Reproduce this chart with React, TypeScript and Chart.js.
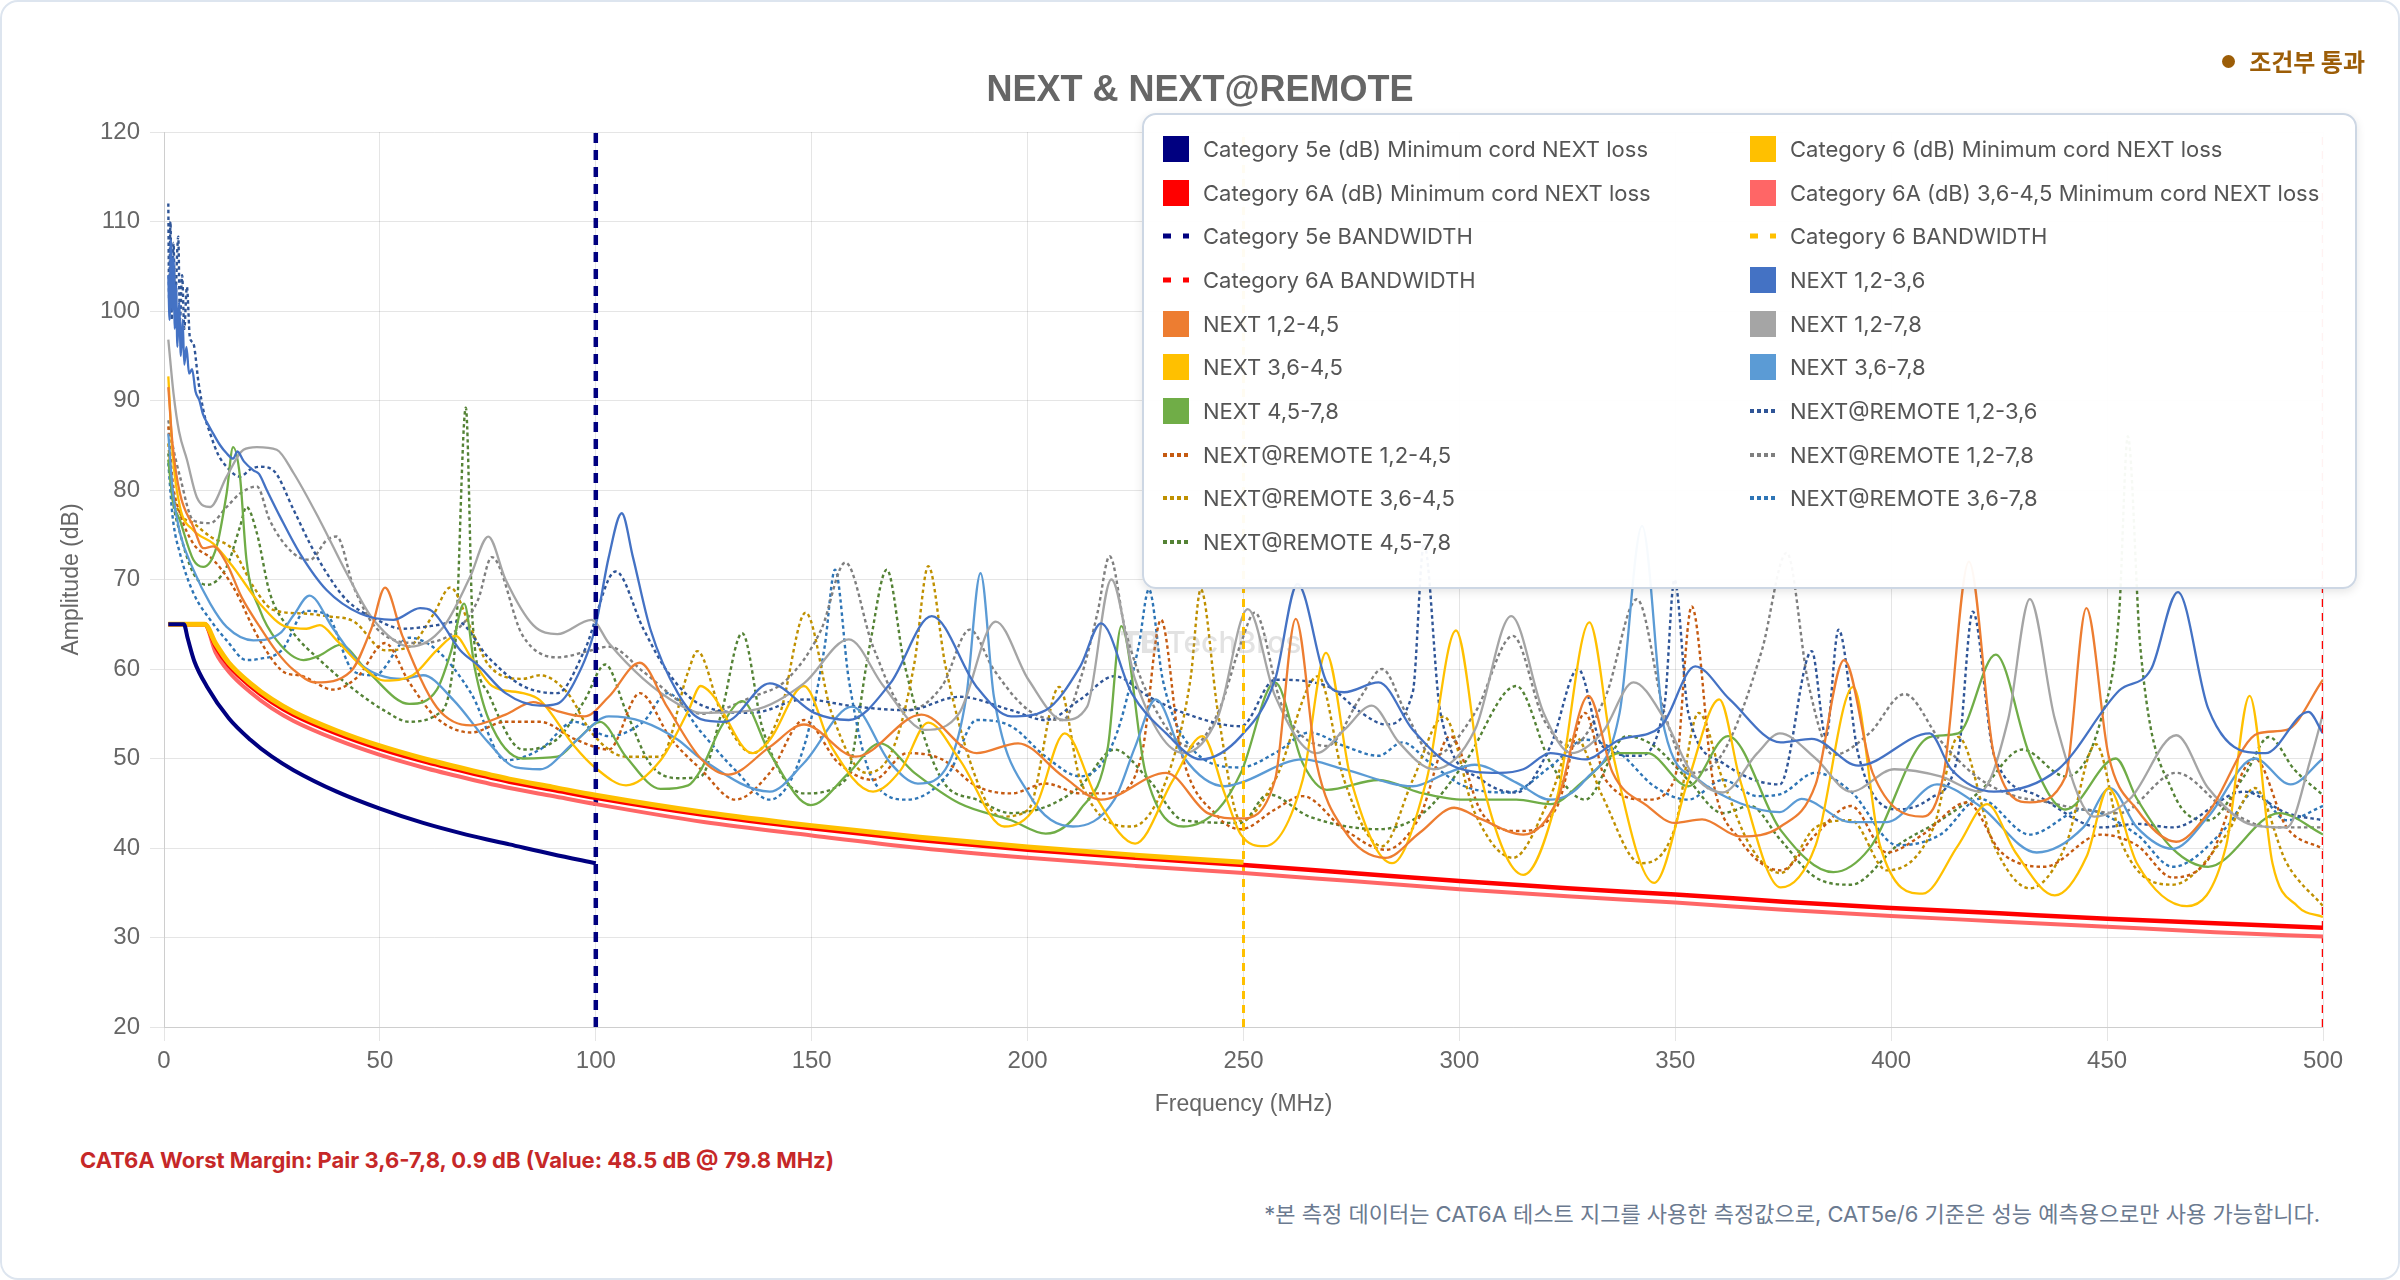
import React, { useEffect, useRef } from "react";
import { Chart, registerables } from "chart.js";

Chart.register(...registerables);

// ---------- limit lines ----------
const CAT5E_FREQ = [1, 4.6, 5.5, 7, 10, 15, 20, 25, 30, 40, 50, 60, 70, 80, 90, 100];
const CAT5E_MIN = [65, 65, 63.4, 60.9, 58.0, 54.5, 52.1, 50.2, 48.7, 46.3, 44.4, 42.8, 41.5, 40.4, 39.3, 38.3];

const LIMIT_FREQ = [1, 9.4, 12, 15, 20, 25, 30, 40, 50, 60, 70, 80, 90, 100, 125, 150, 175, 200, 225, 250, 275, 300, 325, 350, 375, 400, 425, 450, 475, 500];
const CAT6_MIN = [65, 65, 62.8, 60.7, 58.4, 56.6, 55.2, 53.1, 51.4, 50.0, 48.8, 47.7, 46.8, 45.9, 44.0, 42.5, 41.2, 40.1, 39.2, 38.4];
const CAT6A_MIN = [65, 65, 62.5, 60.4, 58.1, 56.3, 54.9, 52.8, 51.1, 49.7, 48.5, 47.4, 46.5, 45.6, 43.7, 42.2, 40.9, 39.8, 38.9, 38.1, 37.2, 36.3, 35.5, 34.8, 34.0, 33.3, 32.7, 32.1, 31.6, 31.1];
const CAT6A_3645_MIN = [65, 65, 61.8, 59.7, 57.4, 55.6, 54.2, 52.1, 50.4, 49.0, 47.8, 46.7, 45.8, 44.9, 42.9, 41.4, 40.0, 38.9, 38.0, 37.2, 36.3, 35.4, 34.6, 33.9, 33.1, 32.4, 31.8, 31.2, 30.6, 30.1];

const CAT5E_BW = 100;
const CAT6_BW = 250;
const CAT6A_BW = 500;
const BW_SPAN = [20, 120];

// ---------- measured NEXT [MHz, dB] ----------
const NEXT_12_36: [number, number][] = [[1,104],[1.3,99],[1.6,108],[1.9,100],[2.2,106],[2.5,98],[2.8,103],[3.1,96],[3.5,101],[3.9,95],[4.3,99],[4.7,94],[5.2,96],[5.8,93],[6.5,93.5],[7.3,91],[8.2,90],[9,88.5],[10,87.5],[11.4,86.3],[13,85],[14.5,84.1],[16,83.5],[17,84.3],[18.5,83.2],[20.7,82.2],[22,81.8],[23.8,80],[26.9,77],[31.5,72.9],[37.7,68.8],[45.4,66.2],[53.1,65.5],[59.3,66.8],[62,66.5],[68.6,62.1],[73,60.3],[79.1,57.3],[87.1,55.9],[91,56.1],[95,58.5],[99.8,64.5],[103,72.5],[106,77.4],[108.6,72.5],[112.6,64.5],[119,57.3],[124.3,54.4],[129.9,54.1],[140.3,58.4],[150.6,55.1],[158.6,54.3],[168.2,58.4],[177.8,65.9],[188.2,58],[196.2,54.7],[204.2,55.4],[212.2,60.3],[217,65.1],[224.1,57.3],[232.1,52.8],[240.1,49.9],[249.4,52.5],[257.3,58.8],[262.5,69.5],[269.3,58.5],[273.3,57.4],[281.3,58.5],[289.2,53.2],[298.8,49.1],[309.2,48.4],[314.8,48.8],[321.1,50.6],[329.1,49.9],[337.1,52.1],[346.7,53.6],[354.6,60.3],[362.6,56.6],[374.4,51.8],[381.6,52.2],[392.4,49.2],[408.9,52.8],[413.9,48.8],[423.8,46.3],[438.7,48.8],[452.8,57.6],[460.2,60],[466.4,68.6],[473.4,55.6],[481.7,50.8],[486.7,50.6],[496.6,55.2],[500,52.8]];

const NEXT_12_45: [number, number][] = [[1,91.5],[2,85],[3.7,79.6],[6.8,75.9],[9.1,73.5],[11.4,73.7],[14.5,71.8],[18,68],[22.2,64.7],[26,62],[30,59.9],[35.2,58.5],[43.2,59.7],[48,64.5],[51.2,69.1],[55.2,63.7],[63.2,55.7],[71.1,53.7],[79.1,54.9],[85.5,56.3],[91.1,55.3],[97.4,54.7],[103,56.9],[110.2,60.7],[116.6,55.7],[124.3,50],[130.7,48.2],[140.3,51.3],[148.2,53.8],[160.2,50.2],[175.4,54.9],[188.2,50.6],[197.8,51.7],[208.2,48],[217,45.4],[232.1,48.4],[241.7,43.9],[249.4,43.3],[257.3,47.6],[262.1,65.6],[266.9,49.5],[273.3,42],[282.9,38.9],[290.8,41.7],[298.8,44.5],[305.2,43.2],[314.8,41.5],[322.7,45.4],[329.9,57],[335.5,48.4],[343.5,44.7],[349.8,42.8],[356.2,43.2],[365,41.3],[374.4,42.4],[382.5,47.1],[389.1,61],[395.7,48.4],[407.3,43.5],[412.2,48.4],[418,72],[423.8,50.4],[432.1,45.1],[440.4,48],[445.2,66.8],[450.3,50.4],[456.9,44.3],[466,40.7],[473.4,43.9],[485,52.8],[491.6,53.2],[500,58.8]];

const NEXT_12_78: [number, number][] = [[1,96.8],[2.2,90.8],[3.5,86.5],[5.3,83.4],[7.6,79.2],[10.7,78.1],[14.5,81.5],[18.4,84.5],[21.5,84.8],[26.1,84.5],[30,81.9],[36.1,76.6],[42.3,70.7],[48.5,65.5],[57,62.5],[64.7,64.7],[70.9,70.3],[75.1,74.8],[79.1,70],[85.5,64.9],[91.1,63.9],[99,65.5],[103,62.9],[111,58.9],[119,56.1],[124.3,55.1],[136.3,55.4],[148.2,58.4],[158.6,63.3],[166.6,58.1],[176.2,53.2],[184.2,55.1],[192.6,65.3],[200.2,58.8],[208.2,54.3],[213.8,55.8],[219.4,70],[224.9,58.8],[236.1,50.6],[244.1,54.7],[251,66.7],[257.3,57],[266.9,50.6],[273.3,53.2],[279.7,55.9],[286,51.8],[294,48.8],[303.6,53.2],[312,65.9],[319.5,55.1],[325.9,50.6],[333.1,52.9],[340.3,58.5],[347.5,54.4],[353.8,48.4],[361,46.2],[369,50.6],[374.2,52.8],[382.5,50],[390.7,46.3],[400.7,48.8],[411.4,48],[420.5,46.3],[427.1,54.4],[432.1,67.8],[437.9,54.4],[447,43.5],[455.3,45.5],[466,52.6],[473.4,46.7],[484.2,42.5],[491.6,42.3],[497.4,50.4],[500,55]];

const NEXT_36_45: [number, number][] = [[1,92.7],[2,84],[3.7,78.1],[6.8,75.5],[11.4,74],[16,71.4],[22.2,67.3],[28.4,64.7],[33,64.5],[36.1,64.9],[40,63.2],[45.4,60.5],[51.2,58.7],[57.6,59.3],[63.2,62.1],[67.5,63.7],[71.1,61.3],[76,58.1],[83.1,57.3],[87.1,56.5],[95,51.4],[99.8,49],[107,47],[115,49.8],[121.4,55.3],[124.3,58.1],[126.7,57.3],[136.3,50.6],[140.3,52.1],[148.2,58.1],[154.6,51.3],[164.2,46.3],[170.6,48.7],[177,54],[184.2,49.9],[194.6,42.4],[201.8,44.6],[208.6,52.8],[216.2,45.4],[224.9,40.5],[233.7,47.6],[240.5,52.5],[245.7,46],[249.4,41.5],[254.9,40.2],[263.7,47.6],[269.1,61.8],[274.9,47.6],[284.4,38.3],[292.4,47.6],[299.2,64.3],[305.2,47.6],[314.8,37],[322.7,45.8],[330.1,65.2],[335.5,50.6],[345.1,36.1],[353,47.6],[360.2,56.6],[365,47.6],[374.4,35.6],[382.5,40.3],[391.2,58],[397.4,40.3],[407.3,34.9],[415.5,40.3],[422.2,44.9],[428.8,39.5],[437.9,34.7],[445.3,39.1],[450.3,46.7],[456.9,38.3],[468.5,33.5],[477.6,40.3],[483,57],[488.3,38.3],[494.1,33.5],[500,32.3]];

const NEXT_36_78: [number, number][] = [[1,86.3],[2,80],[3.7,75.2],[6.8,71.1],[10.7,67.3],[14.5,64.7],[20.7,63.2],[26.9,64],[30,66],[33.7,68.2],[39.2,64.5],[45.6,60.5],[55.2,58.9],[60,59.3],[67.1,56.5],[75.1,51.8],[81.5,49],[87.1,48.8],[95,51.8],[103,54.7],[111,54.1],[119,52.1],[124.3,50],[140.3,46.3],[148.2,49.5],[159.4,55.8],[168.2,49.5],[174.6,47.2],[181.8,49.5],[185.8,56.9],[189.1,70.7],[192.2,56.9],[200.2,46.1],[210.5,42.4],[220.1,45.4],[224.9,51.3],[229.7,56.6],[236.1,50.2],[245.7,46.9],[249.4,47.3],[263.7,49.9],[273.3,48.8],[289.2,46.9],[297.2,48.4],[303.6,49.3],[313.2,47.3],[321.1,45.4],[329.1,47.6],[337.1,55.1],[342.3,76],[347.5,53.2],[355.4,47.6],[365,45],[374.2,44],[379.2,45.5],[390.7,42.9],[399,42.9],[410.6,47.1],[420.5,44.7],[433.7,39.5],[444.5,42.3],[450.7,46.7],[456.9,42.3],[465.2,39.9],[473.4,43.5],[484.2,50],[492.5,47.1],[500,50]];

const NEXT_45_78: [number, number][] = [[1,83.4],[2,79],[3.7,76.6],[6.8,72.2],[9.1,71.4],[12.2,73.7],[14.5,79.6],[16,84.8],[17.6,81.5],[19.1,72.2],[22.2,66.6],[26.1,63.2],[32.3,61],[36,61.5],[40.8,62.7],[47.2,59.7],[56.8,56.1],[63.2,57.7],[66.5,62],[69.5,67.3],[72,60],[75.1,54.5],[83.1,50],[91.1,50.2],[95.9,52.2],[101,54.1],[107,50.2],[115,46.6],[121.4,47],[124.3,48.7],[129.1,53.6],[133.9,56.4],[140.3,50.6],[149.8,44.8],[158.6,48.4],[165.8,51.7],[173.8,48.4],[184.2,45],[196.2,43.1],[204.2,41.6],[212.2,44.3],[218.6,51.3],[221.7,64.8],[227.3,48.4],[236.1,42.4],[244.1,44.3],[249.4,48.4],[257.3,58.5],[263.7,49.5],[269.3,46.5],[281.3,47.6],[290.8,46.2],[301.2,45.4],[313.2,45.4],[321.1,44.9],[329.1,47.6],[337.1,50.6],[343.5,50.6],[353,46.9],[362.2,52.5],[374.4,42],[386.6,37.3],[394.9,39.9],[408.9,52.4],[415.5,52.8],[424.2,61.6],[432.1,50.4],[440.4,44.3],[452,50],[456.9,45.5],[465.2,39.9],[473.4,37.9],[489.9,43.9],[500,41.5]];

// ---------- measured NEXT@REMOTE [MHz, dB] ----------
const REM_12_36: [number, number][] = [[1,112],[1.2,101],[1.5,110],[1.8,99],[2.2,107.6],[2.6,100],[3,106],[3.3,108.3],[3.7,99],[4.2,104],[4.7,98],[5.3,102.7],[6,97],[6.8,96.4],[8,92],[9.3,88.5],[10.7,86.3],[12.5,84],[14.5,82.6],[17.6,81.5],[20,82.3],[22.2,82.6],[25.3,82.2],[30,77.8],[33.8,74],[37.7,70.7],[42.3,67.7],[49.3,65.5],[55.2,64.5],[63.2,64.9],[67.9,65.3],[75.1,61.3],[83.1,58.1],[91.1,57.3],[97.4,62.1],[104.6,70.9],[111,64.5],[116.6,59.7],[124.3,56],[136.3,55.1],[148.2,56.6],[160.2,55.8],[172.2,55.4],[184.2,56.9],[196.2,55.4],[204.2,54.3],[212.2,56.6],[220.1,59.2],[228.1,56.9],[236.1,55.1],[249.4,53.6],[257.3,58.8],[269.3,58.1],[277.3,55.1],[282.9,53.8],[289.2,57.4],[291.8,74],[295.6,55.1],[305.2,47.6],[313.2,46.2],[321.1,51.4],[327.5,60],[333.1,51.4],[341.1,50.3],[347.5,56],[349.8,70],[353,55.1],[361,49.5],[374.2,47.1],[381.6,62],[384.9,52.4],[387.8,64.4],[392.4,50.4],[401.5,44.3],[408.9,45.5],[415.5,50.4],[418.9,66.4],[423.8,50.4],[433.7,45.9],[448.6,42.3],[456.9,42.7],[465.2,42.3],[481.7,46.3],[491.6,43.9],[500,43.1]];

const REM_12_45: [number, number][] = [[1,87.1],[2,81],[3.7,77.4],[6.8,74],[11.4,72.2],[16,69.2],[22.2,63.2],[28.4,59.5],[31.3,59.3],[39.2,57.7],[44.8,59.1],[51.2,62.9],[56.8,58.5],[63.2,54.5],[71.1,52.9],[79.1,54.1],[87.1,54.1],[95,52.2],[103,51],[110.2,57.3],[117.4,52.2],[124.3,48.8],[132.3,45.4],[140.3,48.4],[148.2,54.3],[156.2,49.5],[164.2,47.6],[172.2,50.6],[180.2,49.9],[188.2,46.9],[196.2,46.1],[204.2,47.2],[212.2,46.1],[220.1,46.1],[226.5,50.6],[230.9,65.5],[235.3,51.3],[244.1,43.5],[249.4,42.1],[257.3,44.3],[263.7,45.8],[273.3,42.1],[282.9,39.8],[290.8,43.5],[297.9,52.5],[305.2,43.9],[314,41.9],[322.7,44.7],[329.1,55.1],[333.9,47.6],[343.5,45.4],[349.8,47.6],[353.8,67],[358.7,47.6],[365,40.9],[374.4,37.5],[382.5,41.5],[390.7,44.7],[399,39.5],[407.3,41.5],[417.6,45.1],[425.5,39.5],[435.4,37.9],[448.6,41.5],[456.9,40.3],[465.2,36.7],[473.4,38.7],[484.2,50],[491.6,42.3],[500,39.9]];

const REM_12_78: [number, number][] = [[1,87.8],[2,85],[3.7,81.5],[6.8,76.6],[10.7,76.3],[14.5,78.1],[17.6,79.6],[21.5,80.4],[24.5,76.6],[30,72.9],[33.8,72.2],[37.7,74.4],[40,74.8],[43.9,69.2],[49.3,64.5],[59.2,62.9],[67.1,64.1],[72.7,67.7],[75.9,72.5],[83.1,63.7],[91.1,61.3],[99,62.1],[103,62.5],[111,59.7],[119,56.5],[124.3,55],[136.3,56.9],[144.2,58.8],[152.2,64.4],[157.8,71.9],[164.2,62.5],[172.2,55.4],[180.2,58.1],[186.6,64.4],[192.2,59.9],[200.2,55.4],[208.2,54.3],[212.2,58.8],[216.2,66.3],[219,72.6],[222.6,64.4],[228.1,56.9],[237.7,51.3],[244.1,55.1],[249.5,63],[252.6,66.3],[258.9,55.9],[269.3,51.4],[277.3,57],[282.1,60],[287.6,55.1],[294,50.3],[303.6,55.1],[312.4,63.7],[319.5,54.4],[325.9,51.4],[333.9,57],[341.1,67.8],[347.5,55.1],[353.8,48.4],[361,50.6],[370,62],[375.8,73],[380.8,58.4],[386.6,50.4],[394.9,52.8],[403.1,57.2],[411.4,52],[419.7,48],[428,45.9],[436.2,45.1],[444.5,44.3],[452.8,43.9],[466,48.4],[477.6,44.3],[488.3,42.3],[500,42.3]];

const REM_36_45: [number, number][] = [[1,85.2],[2,80],[3.7,77.4],[6.8,76.3],[10.7,74.8],[16,73.3],[20.7,69.2],[25.3,66.6],[32.3,66.2],[37.7,65.9],[44,65.3],[51.2,62.1],[56.8,62.5],[62.4,66.1],[66.3,69.1],[71.1,64.5],[75.1,60.5],[83.1,58.9],[87.1,59.3],[93.5,57.3],[99,52.9],[107,50.2],[115,50.2],[121.4,59.7],[123.5,62],[129.1,55.1],[136.3,50.6],[142.7,55.1],[148.6,66.3],[154.6,55.1],[162.6,48.4],[169,51.3],[173.8,60.7],[177,71.5],[181,60.3],[188.2,47.6],[193.8,43.5],[200.2,44.3],[207.3,58],[212.2,47.6],[224.1,42.4],[232.1,47.6],[237.7,58.8],[240.1,68.9],[244.1,55.1],[249.4,43],[257.3,47.6],[267.3,59.2],[273.3,47.6],[282.1,40.2],[289.2,47.6],[296.4,54.7],[303.6,43.9],[312.4,38.9],[321.1,45.8],[326.7,52.5],[333.1,45.8],[341.9,38.3],[349.8,42.1],[355.4,55.1],[361,47.6],[367.4,40.2],[374.4,37.2],[382.5,42.3],[390.7,43.1],[399,37.5],[409.8,42.3],[415.5,52.4],[423.8,40.3],[432.1,35.5],[440.4,40.3],[447.4,51.6],[453.6,40.3],[465.2,35.9],[477.6,41.5],[484.2,46.7],[491.6,38.3],[500,33.5]];

const REM_36_78: [number, number][] = [[1,83],[2,77],[3.7,72.9],[6.8,68.5],[10.7,65.5],[14.5,63.2],[19.1,61],[21.7,61.1],[27.3,62.1],[32.9,66.5],[37.6,66.1],[44,59.7],[48.8,59.3],[56.8,63.5],[63.2,62.1],[71.1,57.3],[79.1,49.8],[87.1,51],[95,54.1],[103,52.5],[111,54.1],[116.6,57.3],[124.3,53],[132.3,48.7],[140.3,45.4],[148.2,51.3],[153,62.5],[155.4,71.1],[158.6,58.8],[164.2,47.6],[172.2,45.4],[181.8,48.4],[188.2,54.3],[196.2,53.6],[204.2,50.2],[212.2,48],[220.1,52.1],[225.7,62.5],[228.1,68.9],[231.3,58.8],[237.7,51.3],[249.4,49],[257.3,50.6],[265.3,52.9],[273.3,51.4],[281.3,50.3],[286.8,51.8],[293.2,49.5],[301.2,46.9],[311.6,46.2],[321.1,49.1],[329.1,52.1],[337.1,50.6],[345.1,46.9],[353,45.4],[361,47.6],[369,45.8],[374.2,46],[382.5,48.4],[390.7,46.3],[401.5,40.3],[411.4,41.5],[420.5,45.5],[432.1,41.5],[444.5,44.3],[456.9,41.5],[465.2,37.9],[477.6,42.3],[484.2,46.3],[491.6,43.1],[500,44.7]];

const REM_45_78: [number, number][] = [[1,84.1],[2,79],[3.7,75.2],[6.8,70.7],[9.9,69.4],[14.5,71.4],[17.6,75.9],[19.1,78.1],[21.5,75.2],[24.5,68.5],[30,64],[36.1,61],[44,57.7],[51.2,55.3],[56.8,54.1],[63.2,54.9],[67.5,63],[69.9,89.2],[71.5,65],[75.1,57.3],[83.1,51],[91.1,52.2],[97.4,56.5],[102.2,60.5],[107,55.3],[112.6,49.4],[119,47.8],[124.3,48],[129.1,55.1],[133.9,64],[138.7,53.2],[148.2,46.1],[157.8,47.6],[163.4,62.5],[167.4,71.1],[171.4,60.7],[180.2,47.6],[188.2,45.4],[196.2,43.9],[204.2,44.6],[212.2,46.9],[220.1,51],[228.1,47.6],[236.1,43.1],[249.4,42.8],[255.7,46],[265.3,43.5],[281.3,42.1],[291.6,43.9],[301.2,49.5],[313.2,58.1],[321.1,49.5],[329.1,45.4],[338.7,52.5],[345.1,51.4],[353,47.6],[361,43.9],[367.4,44.7],[374.2,41],[382.5,36.7],[390.7,35.9],[401.5,40.3],[411.4,43.1],[420.5,46.3],[430.4,51],[440.4,48],[448.6,54.4],[452.8,66.4],[454.8,86],[457.7,62.4],[465.2,46.3],[473.4,43.1],[481.7,48],[487.5,52.4],[493.3,48.8],[500,45.9]];

const X_TICKS = [0, 50, 100, 150, 200, 250, 300, 350, 400, 450, 500];

type Kind = "box" | "dash" | "dot";
interface SeriesDef {
  label: string;
  color: string;
  kind: Kind;
}

const pts = (f: number[], v: number[]) => v.map((y, i) => ({ x: f[i], y }));
const pairs = (p: [number, number][]) => p.map(([x, y]) => ({ x, y }));
const vline = (x: number) => BW_SPAN.map((y) => ({ x, y }));

const LEGEND: SeriesDef[] = [
  { label: "Category 5e (dB) Minimum cord NEXT loss", color: "#000080", kind: "box" },
  { label: "Category 6 (dB) Minimum cord NEXT loss", color: "#FFC000", kind: "box" },
  { label: "Category 6A (dB) Minimum cord NEXT loss", color: "#FF0000", kind: "box" },
  { label: "Category 6A (dB) 3,6-4,5 Minimum cord NEXT loss", color: "#FF6666", kind: "box" },
  { label: "Category 5e BANDWIDTH", color: "#000080", kind: "dash" },
  { label: "Category 6 BANDWIDTH", color: "#FFC000", kind: "dash" },
  { label: "Category 6A BANDWIDTH", color: "#FF0000", kind: "dash" },
  { label: "NEXT 1,2-3,6", color: "#4472C4", kind: "box" },
  { label: "NEXT 1,2-4,5", color: "#ED7D31", kind: "box" },
  { label: "NEXT 1,2-7,8", color: "#A5A5A5", kind: "box" },
  { label: "NEXT 3,6-4,5", color: "#FFC000", kind: "box" },
  { label: "NEXT 3,6-7,8", color: "#5B9BD5", kind: "box" },
  { label: "NEXT 4,5-7,8", color: "#70AD47", kind: "box" },
  { label: "NEXT@REMOTE 1,2-3,6", color: "#2F5597", kind: "dot" },
  { label: "NEXT@REMOTE 1,2-4,5", color: "#C55A11", kind: "dot" },
  { label: "NEXT@REMOTE 1,2-7,8", color: "#7F7F7F", kind: "dot" },
  { label: "NEXT@REMOTE 3,6-4,5", color: "#BF9000", kind: "dot" },
  { label: "NEXT@REMOTE 3,6-7,8", color: "#2E75B6", kind: "dot" },
  { label: "NEXT@REMOTE 4,5-7,8", color: "#548235", kind: "dot" },
];

function buildDatasets() {
  const L = LEGEND;
  const limit = (i: number, data: any[], width: number) => ({
    label: L[i].label, data, borderColor: L[i].color, backgroundColor: L[i].color,
    borderWidth: width, pointRadius: 0, cubicInterpolationMode: "monotone" as const, fill: false,
  });
  const bw = (i: number, x: number, width: number, dash: number[]) => ({
    label: L[i].label, data: vline(x), borderColor: L[i].color, backgroundColor: L[i].color,
    borderWidth: width, borderDash: dash, pointRadius: 0, fill: false,
  });
  const trace = (i: number, p: [number, number][], dotted: boolean) => ({
    label: L[i].label, data: pairs(p), borderColor: L[i].color, backgroundColor: L[i].color,
    borderWidth: dotted ? 2.4 : 2.3, borderDash: dotted ? [3.5, 3] : [], pointRadius: 0,
    cubicInterpolationMode: "monotone" as const, fill: false,
  });
  return [
    limit(0, pts(CAT5E_FREQ, CAT5E_MIN), 4),
    limit(1, pts(LIMIT_FREQ, CAT6_MIN), 5),
    limit(2, pts(LIMIT_FREQ, CAT6A_MIN), 4.5),
    limit(3, pts(LIMIT_FREQ, CAT6A_3645_MIN), 4),
    bw(4, CAT5E_BW, 4.5, [10, 7]),
    bw(5, CAT6_BW, 3, [8, 6]),
    bw(6, CAT6A_BW, 2.5, [8, 6]),
    trace(7, NEXT_12_36, false),
    trace(8, NEXT_12_45, false),
    trace(9, NEXT_12_78, false),
    trace(10, NEXT_36_45, false),
    trace(11, NEXT_36_78, false),
    trace(12, NEXT_45_78, false),
    trace(13, REM_12_36, true),
    trace(14, REM_12_45, true),
    trace(15, REM_12_78, true),
    trace(16, REM_36_45, true),
    trace(17, REM_36_78, true),
    trace(18, REM_45_78, true),
  ];
}

function Swatch({ def }: { def: SeriesDef }) {
  if (def.kind === "box") {
    return <span style={{ display: "inline-block", width: 26, height: 26, background: def.color, flex: "none" }} />;
  }
  const dash = def.kind === "dash" ? "8 12" : "4 3";
  return (
    <svg width={26} height={26} style={{ flex: "none" }}>
      <line x1={0} y1={13} x2={28} y2={13} stroke={def.color} strokeWidth={def.kind === "dash" ? 5 : 4} strokeDasharray={dash} />
    </svg>
  );
}

export default function App() {
  const ref = useRef<HTMLCanvasElement>(null);

  useEffect(() => {
    document.body.style.margin = "0";
    Chart.defaults.font.family = "'Liberation Sans', Arial, sans-serif";
    const chart = new Chart(ref.current as HTMLCanvasElement, {
      type: "line",
      data: { datasets: buildDatasets() as any },
      options: {
        animation: false,
        responsive: true,
        maintainAspectRatio: false,
        layout: { padding: { left: 52, top: 130, right: 75, bottom: 20 } },
        plugins: { legend: { display: false }, title: { display: false }, tooltip: { enabled: false } },
        elements: { point: { radius: 0 }, line: { borderJoinStyle: "round" } },
        scales: {
          x: {
            type: "linear",
            min: X_TICKS[0],
            max: X_TICKS[X_TICKS.length - 1],
            afterFit: (s: any) => { s.height = 95; },
            afterBuildTicks: (s: any) => { s.ticks = X_TICKS.map((v) => ({ value: v })); },
            ticks: { stepSize: 50, color: "#666", font: { size: 24 }, padding: 6 },
            grid: { color: "rgba(0,0,0,0.1)", tickLength: 14 },
            title: { display: true, text: "Frequency (MHz)", color: "#666", font: { size: 23 }, padding: { top: 4, bottom: 4 } },
          },
          y: {
            type: "linear",
            min: 20,
            max: 120,
            afterFit: (s: any) => { s.width = 110; },
            ticks: { stepSize: 10, color: "#666", font: { size: 24 }, padding: 10 },
            grid: { color: "rgba(0,0,0,0.1)", tickLength: 14 },
            title: { display: true, text: "Amplitude (dB)", color: "#666", font: { size: 23 }, padding: { top: 4, bottom: 4 } },
          },
        },
      } as any,
    });
    return () => chart.destroy();
  }, []);

  return (
    <div
      style={{
        position: "relative", width: 2400, height: 1280, boxSizing: "border-box",
        border: "2px solid #dde5ef", borderRadius: 18, background: "#fff", overflow: "hidden",
        fontFamily: "Inter, 'Noto Sans CJK KR', sans-serif",
      }}
    >
      <div style={{ position: "absolute", left: 0, top: 0, width: 2396, height: 1140 }}>
        <canvas ref={ref} />
      </div>

      <div
        style={{
          position: "absolute", left: 0, top: 67, width: 2396, textAlign: "center",
          fontFamily: "'Liberation Sans', Arial, sans-serif", fontWeight: 700, fontSize: 36,
          lineHeight: "40px", color: "#666",
        }}
      >
        NEXT &amp; NEXT@REMOTE
      </div>

      <div
        style={{
          position: "absolute", right: 33, top: 43, display: "flex", alignItems: "center",
          fontFamily: "'Noto Sans CJK KR', sans-serif", fontWeight: 700, fontSize: 24, color: "#9c5d07",
          lineHeight: "32px",
        }}
      >
        <span style={{ display: "inline-block", width: 13, height: 13, borderRadius: "50%", background: "#9c5d07", marginRight: 14 }} />
        조건부 통과
      </div>

      <div
        style={{
          position: "absolute", left: 1118, top: 622, color: "rgba(150,150,150,0.28)",
          fontFamily: "Inter, sans-serif", fontSize: 30, fontWeight: 500, pointerEvents: "none",
          display: "flex", alignItems: "center",
        }}
      >
        <span style={{ fontWeight: 800, fontSize: 30, marginRight: 6 }}>TB</span>TechBros
      </div>

      <div
        style={{
          position: "absolute", left: 1140, top: 111, width: 1215, height: 476, boxSizing: "border-box",
          background: "rgba(255,255,255,0.95)", border: "2px solid #cdd7e4", borderRadius: 14,
          boxShadow: "0 3px 10px rgba(0,0,0,0.10)", padding: "12px 0 0 19px",
          display: "grid", gridTemplateColumns: "587px 587px", gridAutoRows: "43.7px",
        }}
      >
        {LEGEND.map((d) => (
          <div key={d.label} style={{ display: "flex", alignItems: "center", fontSize: 22, color: "#555", whiteSpace: "nowrap" }}>
            <Swatch def={d} />
            <span style={{ marginLeft: 14 }}>{d.label}</span>
          </div>
        ))}
      </div>

      <div
        style={{
          position: "absolute", left: 78, top: 1143, fontSize: 22, fontWeight: 700, color: "#c62828",
          fontFamily: "Inter, sans-serif", lineHeight: "30px", whiteSpace: "nowrap",
        }}
      >
        CAT6A Worst Margin: Pair 3,6-7,8, 0.9 dB (Value: 48.5 dB @ 79.8 MHz)
      </div>

      <div
        style={{
          position: "absolute", right: 78, top: 1197, fontSize: 22, color: "#6b7a90",
          fontFamily: "Inter, 'Noto Sans CJK KR', sans-serif", lineHeight: "30px", whiteSpace: "nowrap",
        }}
      >
        *본 측정 데이터는 CAT6A 테스트 지그를 사용한 측정값으로, CAT5e/6 기준은 성능 예측용으로만 사용 가능합니다.
      </div>
    </div>
  );
}
